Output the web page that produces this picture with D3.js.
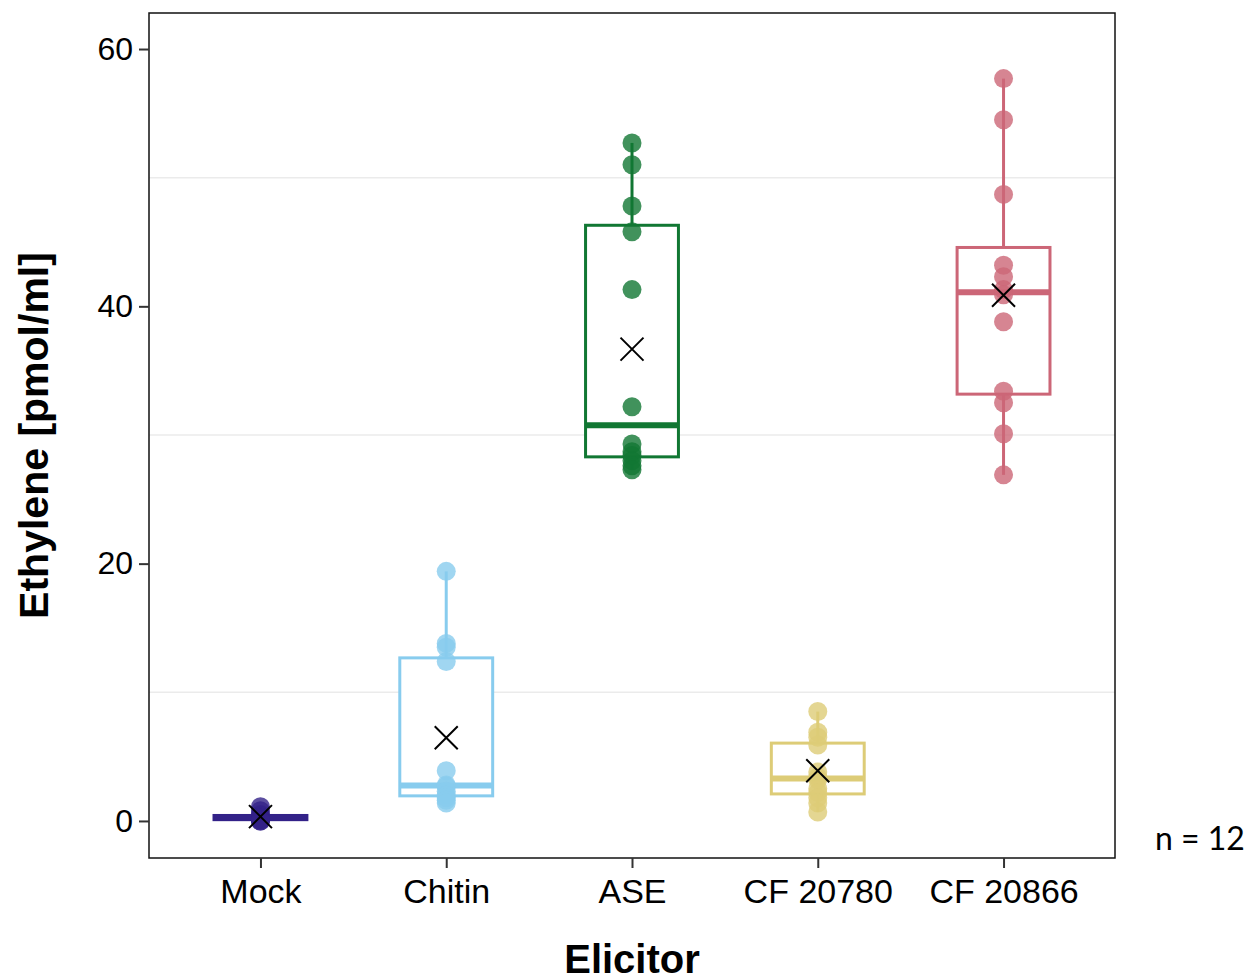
<!DOCTYPE html>
<html>
<head>
<meta charset="utf-8">
<script src="https://cdn.jsdelivr.net/npm/d3@7"></script>
<style>
  body { margin: 0; background: #fff; }
  svg text { font-family: "Liberation Sans", Arial, sans-serif; fill: #000; }
  .axis path { display: none; }
  .axis line { stroke: #333; stroke-width: 2; }
</style>
</head>
<body>
<svg id="chart" width="1252" height="980"></svg>
<script>
// elicitors on the x axis
var categories = ["Mock", "Chitin", "ASE", "CF 20780", "CF 20866"];

// ethylene readings [pmol/ml], 12 per elicitor
var mockValues = [1.1, 0.8, 0.5, 0.4, 0.3, 0.3, 0.2, 0.2, 0.1, 0.1, 0.0, 0.0];
var chitinValues = [19.4, 13.8, 13.5, 12.4, 3.9, 2.8, 2.7, 2.3, 2.0, 1.8, 1.6, 1.4];
var aseValues = [52.7, 51.0, 47.8, 45.8, 41.3, 32.2, 29.3, 28.7, 28.4, 28.0, 27.6, 27.3];
var cf20780Values = [8.5, 6.9, 6.5, 5.9, 3.8, 3.4, 3.2, 2.5, 2.2, 1.8, 1.4, 0.7];
var cf20866Values = [57.7, 54.5, 48.7, 43.2, 42.3, 41.3, 40.9, 38.8, 33.4, 32.5, 30.1, 26.9];

var yTicks = [0, 20, 40, 60];
var yMinor = [10, 30, 50];
var sampleNote = "n = 12";

var colors = ["#332288", "#88CCEE", "#117733", "#DDCC77", "#CC6677"];

var allValues = [mockValues, chitinValues, aseValues, cf20780Values, cf20866Values];

var svg = d3.select("#chart"),
    margin = { top: 13, right: 137, bottom: 122, left: 149 },
    width = 1252 - margin.left - margin.right,
    height = 980 - margin.top - margin.bottom;

var x = d3.scalePoint().domain(categories).range([0, width]).padding(0.6),
    y = d3.scaleLinear().domain([-2.88, 62.8]).range([height, 0]);

var boxW = x.step() * 0.5;

// box statistics the ggplot way
function boxStats(vals) {
    var s = vals.slice().sort(d3.ascending);
    var q1 = d3.quantile(s, 0.25), med = d3.quantile(s, 0.5), q3 = d3.quantile(s, 0.75);
    var iqr = q3 - q1;
    var lo = d3.min(s.filter(function(v) { return v >= q1 - 1.5 * iqr; }));
    var hi = d3.max(s.filter(function(v) { return v <= q3 + 1.5 * iqr; }));
    return { q1: q1, med: med, q3: q3, lo: lo, hi: hi, mean: d3.mean(s) };
}

var groups = categories.map(function(c, i) {
    return { cat: c, color: colors[i], values: allValues[i], stats: boxStats(allValues[i]) };
});

var g = svg.append("g").attr("transform", "translate(" + margin.left + "," + margin.top + ")");

// minor grid
g.selectAll(".grid")
    .data(yMinor)
    .enter().append("line")
    .attr("x1", 0).attr("x2", width)
    .attr("y1", function(d) { return y(d); })
    .attr("y2", function(d) { return y(d); })
    .attr("stroke", "#ebebeb")
    .attr("stroke-width", 1.5);

var box = g.selectAll(".box")
    .data(groups)
    .enter().append("g")
    .attr("class", "box")
    .attr("transform", function(d) { return "translate(" + x(d.cat) + ",0)"; });

// whiskers
box.append("line")
    .attr("y1", function(d) { return y(d.stats.hi); })
    .attr("y2", function(d) { return y(d.stats.q3); })
    .attr("stroke", function(d) { return d.color; })
    .attr("stroke-width", 3);
box.append("line")
    .attr("y1", function(d) { return y(d.stats.q1); })
    .attr("y2", function(d) { return y(d.stats.lo); })
    .attr("stroke", function(d) { return d.color; })
    .attr("stroke-width", 3);

box.append("rect")
    .attr("x", -boxW / 2)
    .attr("width", boxW)
    .attr("y", function(d) { return y(d.stats.q3); })
    .attr("height", function(d) { return y(d.stats.q1) - y(d.stats.q3); })
    .attr("fill", "#fff")
    .attr("stroke", function(d) { return d.color; })
    .attr("stroke-width", 3);

box.append("line")
    .attr("x1", -boxW / 2).attr("x2", boxW / 2)
    .attr("y1", function(d) { return y(d.stats.med); })
    .attr("y2", function(d) { return y(d.stats.med); })
    .attr("stroke", function(d) { return d.color; })
    .attr("stroke-width", 6);

// raw points
box.selectAll(".pt")
    .data(function(d) { return d.values.map(function(v) { return { v: v, color: d.color }; }); })
    .enter().append("circle")
    .attr("class", "pt")
    .attr("cx", 0)
    .attr("cy", function(d) { return y(d.v); })
    .attr("r", 9.5)
    .attr("fill", function(d) { return d.color; })
    .attr("fill-opacity", 0.8);

// mean marker
var cs = 11.5;
box.append("path")
    .attr("d", function(d) {
        var m = y(d.stats.mean);
        return "M" + (-cs) + "," + (m - cs) + "L" + cs + "," + (m + cs) +
               "M" + (-cs) + "," + (m + cs) + "L" + cs + "," + (m - cs);
    })
    .attr("stroke", "#000")
    .attr("stroke-width", 2)
    .attr("fill", "none");

// panel border
g.append("rect")
    .attr("width", width)
    .attr("height", height)
    .attr("fill", "none")
    .attr("stroke", "#111")
    .attr("stroke-width", 1.5);

g.append("g")
    .attr("class", "axis axis--x")
    .attr("transform", "translate(0," + height + ")")
    .call(d3.axisBottom(x).tickSize(10).tickSizeOuter(0))
    .selectAll("text")
    .attr("y", 45)
    .attr("dy", "0")
    .style("font-size", "34px");

g.append("g")
    .attr("class", "axis axis--y")
    .call(d3.axisLeft(y).tickValues(yTicks).tickSize(10).tickPadding(6).tickSizeOuter(0))
    .selectAll("text")
    .style("font-size", "32px");

svg.append("text")
    .attr("transform", "translate(48," + (margin.top + height / 2) + ") rotate(-90)")
    .attr("text-anchor", "middle")
    .style("font-size", "41px")
    .style("font-weight", "bold")
    .text("Ethylene [pmol/ml]");

svg.append("text")
    .attr("x", margin.left + width / 2)
    .attr("y", 973)
    .attr("text-anchor", "middle")
    .style("font-size", "40px")
    .style("font-weight", "bold")
    .text("Elicitor");

svg.append("text")
    .attr("x", 1155)
    .attr("y", 850)
    .style("font-family", "Lato, 'Open Sans', sans-serif")
    .style("font-size", "32px")
    .text(sampleNote);
</script>
</body>
</html>
